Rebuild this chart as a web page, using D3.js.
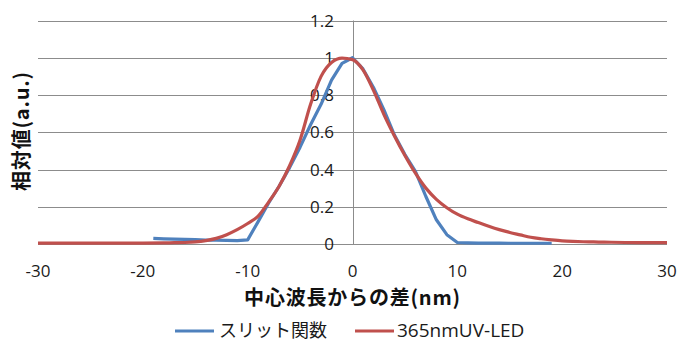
<!DOCTYPE html>
<html>
<head>
<meta charset="utf-8">
<script src="https://cdn.jsdelivr.net/npm/d3@7"></script>
<style>
  body { margin: 0; background: #fff; }
  svg { display: block; }
</style>
</head>
<body>
<svg id="chart" width="687" height="342"></svg>
<script>
// wavelength offset (nm) and relative values
const slitX = [-19, -18, -17, -16, -15, -14, -13, -12, -11, -10, -9, -8, -7, -6, -5, -4, -3, -2, -1, 0,
  1, 2, 3, 4, 5, 6, 7, 8, 9, 10, 11, 12, 13, 14, 15, 16, 17, 18, 19];
const slitY = [0.03, 0.028, 0.026, 0.025, 0.023, 0.021, 0.02, 0.019, 0.018, 0.022, 0.12, 0.22, 0.31, 0.41, 0.52, 0.64, 0.75, 0.88, 0.97, 1.0,
  0.94, 0.84, 0.72, 0.585, 0.48, 0.39, 0.255, 0.13, 0.05, 0.008, 0.006, 0.005, 0.005, 0.005, 0.004, 0.004, 0.004, 0.004, 0.004];

const ledX = [-30, -28, -26, -24, -22, -20, -18, -17, -16, -15, -14, -13, -12, -11, -10, -9, -8, -7, -6, -5, -4, -3, -2, -1, 0,
  1, 2, 3, 4, 5, 6, 7, 8, 9, 10, 11, 12, 13, 14, 15, 16, 17, 18, 19, 20, 21, 22, 23, 24, 26, 28, 30];
const ledY = [0.005, 0.005, 0.005, 0.005, 0.005, 0.005, 0.006, 0.007, 0.008, 0.011, 0.018, 0.03, 0.05, 0.077, 0.11, 0.15, 0.225, 0.31, 0.42, 0.558, 0.75, 0.9, 0.975, 0.998, 0.99,
  0.935, 0.825, 0.695, 0.58, 0.475, 0.38, 0.3, 0.24, 0.195, 0.16, 0.135, 0.115, 0.095, 0.077, 0.062, 0.049, 0.036, 0.028, 0.022, 0.017, 0.014, 0.012, 0.011, 0.01, 0.008, 0.007, 0.007];

const xTicks = [-30, -20, -10, 0, 10, 20, 30];
const yTicks = [0, 0.2, 0.4, 0.6, 0.8, 1, 1.2];

const seriesNames = ["スリット関数", "365nmUV-LED"];
const seriesColors = ["#4f81bd", "#c0504d"];

const svg = d3.select("#chart");
const latin = "'Open Sans', 'Noto Sans CJK JP', sans-serif";
const cjk = "'Noto Sans CJK JP', sans-serif";

const x = d3.scaleLinear().domain([-30, 30]).range([38, 667]);
const y = d3.scaleLinear().domain([0, 1.2]).range([244, 20.5]);

// horizontal gridlines
svg.append("g")
  .selectAll("line")
  .data(yTicks)
  .join("line")
  .attr("x1", x(-30))
  .attr("x2", x(30))
  .attr("y1", d => Math.round(y(d)) + 0.5)
  .attr("y2", d => Math.round(y(d)) + 0.5)
  .attr("stroke", "#8c8c8c")
  .attr("stroke-width", 1);

// vertical axis sits at x = 0
svg.append("line")
  .attr("x1", Math.round(x(0)) + 0.5)
  .attr("x2", Math.round(x(0)) + 0.5)
  .attr("y1", y(1.2))
  .attr("y2", y(0))
  .attr("stroke", "#8c8c8c");

// y tick labels, left of the x=0 axis
svg.append("g")
  .selectAll("text")
  .data(yTicks)
  .join("text")
  .attr("x", 334)
  .attr("y", d => y(d))
  .attr("dy", "0.36em")
  .attr("text-anchor", "end")
  .style("font-family", latin)
  .style("font-size", "17px")
  .attr("fill", "#1a1a1a")
  .text(d => d3.format("~g")(d));

// x tick labels
svg.append("g")
  .selectAll("text")
  .data(xTicks)
  .join("text")
  .attr("x", d => x(d))
  .attr("y", 271)
  .attr("dy", "0.36em")
  .attr("text-anchor", "middle")
  .style("font-family", latin)
  .style("font-size", "17px")
  .attr("fill", "#1a1a1a")
  .text(d => d);

// curves
const slit = slitX.map((d, i) => [d, slitY[i]]);
const led = ledX.map((d, i) => [d, ledY[i]]);

svg.append("path")
  .datum(slit)
  .attr("fill", "none")
  .attr("stroke", seriesColors[0])
  .attr("stroke-width", 3.2)
  .attr("stroke-linejoin", "round")
  .attr("d", d3.line().x(d => x(d[0])).y(d => y(d[1])));

svg.append("path")
  .datum(led)
  .attr("fill", "none")
  .attr("stroke", seriesColors[1])
  .attr("stroke-width", 3.2)
  .attr("stroke-linejoin", "round")
  .attr("d", d3.line().curve(d3.curveMonotoneX).x(d => x(d[0])).y(d => y(d[1])));

// axis titles
svg.append("text")
  .attr("x", 352.5)
  .attr("y", 298)
  .attr("dy", "0.36em")
  .attr("text-anchor", "middle")
  .style("font-family", cjk)
  .style("font-size", "20px")
  .style("letter-spacing", "0.8px")
  .style("font-weight", "bold")
  .attr("fill", "#111")
  .text("中心波長からの差(nm)");

svg.append("text")
  .attr("transform", "translate(22,131) rotate(-90)")
  .attr("dy", "0.36em")
  .attr("text-anchor", "middle")
  .style("font-family", cjk)
  .style("font-size", "20px")
  .style("letter-spacing", "0.8px")
  .style("font-weight", "bold")
  .attr("fill", "#111")
  .text("相対値(a.u.)");

// legend
const legendX = [175, 355];
const legend = svg.append("g")
  .selectAll("g")
  .data(seriesNames)
  .join("g")
  .attr("transform", (d, i) => `translate(${legendX[i]},331)`);

legend.append("line")
  .attr("x1", 0)
  .attr("x2", 39)
  .attr("stroke", (d, i) => seriesColors[i])
  .attr("stroke-width", 3.2);

legend.append("text")
  .attr("x", (d, i) => i === 0 ? 44 : 42)
  .attr("dy", "0.34em")
  .style("font-family", (d, i) => i === 0 ? cjk : latin)
  .style("font-size", (d, i) => i === 0 ? "18px" : "19px")
  .attr("fill", "#1a1a1a")
  .text(d => d);
</script>
</body>
</html>
